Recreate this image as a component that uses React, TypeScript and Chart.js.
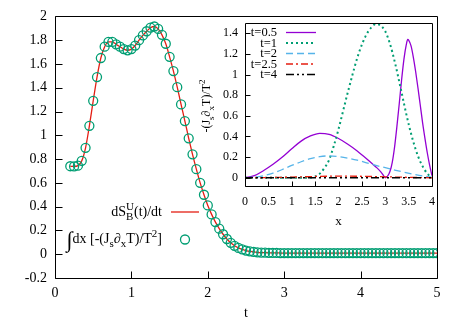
import React, { useEffect, useRef } from 'react';
import { Chart, registerables } from 'chart.js';

Chart.register(...registerables);

// ---------- main plot data ----------
const tValues = [
  0.2, 0.25, 0.3, 0.35, 0.4, 0.45, 0.5, 0.55, 0.6, 0.65,
  0.7, 0.75, 0.8, 0.85, 0.9, 0.95, 1.0, 1.05, 1.1, 1.15,
  1.2, 1.25, 1.3, 1.35, 1.4, 1.45, 1.5, 1.55, 1.6, 1.65,
  1.7, 1.75, 1.8, 1.85, 1.9, 1.95, 2.0, 2.05, 2.1, 2.15,
  2.2, 2.25, 2.3, 2.35, 2.4, 2.45, 2.5, 2.55, 2.6, 2.65,
  2.7, 2.75, 2.8, 2.85, 2.9, 2.95, 3.0, 3.05, 3.1, 3.15,
  3.2, 3.25, 3.3, 3.35, 3.4, 3.45, 3.5, 3.55, 3.6, 3.65,
  3.7, 3.75, 3.8, 3.85, 3.9, 3.95, 4.0, 4.05, 4.1, 4.15,
  4.2, 4.25, 4.3, 4.35, 4.4, 4.45, 4.5, 4.55, 4.6, 4.65,
  4.7, 4.75, 4.8, 4.85, 4.9, 4.95, 5.0,
];
const dSdtValues = [
  0.74, 0.738, 0.745, 0.785, 0.895, 1.08, 1.29, 1.49, 1.65, 1.745,
  1.785, 1.785, 1.765, 1.745, 1.725, 1.715, 1.725, 1.755, 1.8, 1.84,
  1.875, 1.905, 1.915, 1.895, 1.845, 1.77, 1.66, 1.54, 1.405, 1.26,
  1.12, 0.975, 0.84, 0.715, 0.6, 0.5, 0.41, 0.335, 0.27, 0.215,
  0.168, 0.128, 0.096, 0.071, 0.053, 0.04, 0.031, 0.024, 0.019, 0.016,
  0.014, 0.013, 0.012, 0.011, 0.011, 0.01, 0.01, 0.01, 0.01, 0.01,
  0.01, 0.01, 0.01, 0.01, 0.01, 0.01, 0.01, 0.01, 0.01, 0.01,
  0.01, 0.01, 0.01, 0.01, 0.01, 0.01, 0.01, 0.01, 0.01, 0.01,
  0.01, 0.01, 0.01, 0.01, 0.01, 0.01, 0.01, 0.01, 0.01, 0.01,
  0.01, 0.01, 0.01, 0.01, 0.01, 0.01, 0.01,
];
const integralValues = [
  0.74, 0.738, 0.745, 0.785, 0.895, 1.08, 1.29, 1.49, 1.65, 1.745,
  1.785, 1.785, 1.765, 1.745, 1.725, 1.715, 1.725, 1.755, 1.8, 1.84,
  1.875, 1.905, 1.915, 1.895, 1.845, 1.77, 1.66, 1.54, 1.405, 1.26,
  1.12, 0.975, 0.84, 0.715, 0.6, 0.5, 0.41, 0.335, 0.27, 0.215,
  0.168, 0.128, 0.096, 0.071, 0.053, 0.04, 0.031, 0.024, 0.019, 0.016,
  0.014, 0.013, 0.012, 0.011, 0.011, 0.01, 0.01, 0.01, 0.01, 0.01,
  0.01, 0.01, 0.01, 0.01, 0.01, 0.01, 0.01, 0.01, 0.01, 0.01,
  0.01, 0.01, 0.01, 0.01, 0.01, 0.01, 0.01, 0.01, 0.01, 0.01,
  0.01, 0.01, 0.01, 0.01, 0.01, 0.01, 0.01, 0.01, 0.01, 0.01,
  0.01, 0.01, 0.01, 0.01, 0.01, 0.01, 0.01,
];
const mainXTicks = [0, 1, 2, 3, 4, 5];
const mainYTicks = [-0.2, 0, 0.2, 0.4, 0.6, 0.8, 1.0, 1.2, 1.4, 1.6, 1.8, 2.0];
const mainXTitle = 't';

// ---------- inset data ----------
const purpleX = [0, 0.2, 0.4, 0.6, 0.8, 1.0, 1.2, 1.4, 1.6, 1.8, 2.0, 2.2, 2.4, 2.6, 2.8, 2.9, 2.95, 3.0, 3.05, 3.1, 3.15, 3.2, 3.25, 3.3, 3.35, 3.4, 3.45, 3.48, 3.5, 3.55, 3.6, 3.65, 3.7, 3.75, 3.8, 3.85, 3.9, 3.95, 4.0];
const purpleY = [0, 0.02, 0.07, 0.13, 0.2, 0.28, 0.355, 0.405, 0.43, 0.42, 0.38, 0.325, 0.26, 0.185, 0.105, 0.06, 0.03, 0.0, 0.015, 0.06, 0.15, 0.3, 0.5, 0.72, 0.95, 1.15, 1.29, 1.34, 1.335, 1.28, 1.17, 1.03, 0.87, 0.7, 0.53, 0.38, 0.24, 0.12, 0.02];
const greenX = [0, 0.5, 1.0, 1.4, 1.5, 1.6, 1.7, 1.8, 1.9, 2.0, 2.1, 2.2, 2.3, 2.4, 2.5, 2.6, 2.7, 2.8, 2.9, 3.0, 3.1, 3.2, 3.3, 3.4, 3.5, 3.6, 3.7, 3.8, 3.9, 4.0];
const greenY = [0, 0, 0, 0.002, 0.012, 0.04, 0.095, 0.175, 0.31, 0.47, 0.65, 0.83, 1.0, 1.16, 1.29, 1.39, 1.455, 1.49, 1.475, 1.42, 1.3, 1.13, 0.93, 0.72, 0.52, 0.35, 0.21, 0.11, 0.04, 0.0];
const blueX = [0, 0.2, 0.4, 0.6, 0.8, 1.0, 1.2, 1.4, 1.6, 1.8, 2.0, 2.2, 2.4, 2.6, 2.8, 3.0, 3.2, 3.4, 3.6, 3.8, 4.0];
const blueY = [0, 0.005, 0.02, 0.045, 0.08, 0.12, 0.155, 0.185, 0.205, 0.212, 0.205, 0.19, 0.17, 0.145, 0.12, 0.097, 0.075, 0.054, 0.035, 0.018, 0.005];
const redX = [0, 0.5, 1.0, 1.5, 2.0, 2.5, 3.0, 3.5, 4.0];
const redY = [0, 0.002, 0.006, 0.012, 0.016, 0.014, 0.009, 0.004, 0.0];
const blackX = [0, 1, 2, 3, 4];
const blackY = [0, 0, 0, 0, 0];
const insetLabels = ['t=0.5', 't=1', 't=2', 't=2.5', 't=4'];
const insetXTicks = [0, 0.5, 1, 1.5, 2, 2.5, 3, 3.5, 4];
const insetYTicks = [0, 0.2, 0.4, 0.6, 0.8, 1.0, 1.2, 1.4];
const insetXTitle = 'x';

const FAMILY = '"Liberation Serif", "DejaVu Serif", serif';
const W = 463;
const H = 324;

type Seg = { s: string; k?: 'sub' | 'sup'; stay?: boolean; big?: boolean };

const legendLine: Seg[] = [
  { s: 'dS' }, { s: 'B', k: 'sub', stay: true }, { s: 'U', k: 'sup' }, { s: '(t)/dt' },
];
const legendCircles: Seg[] = [
  { s: '\u222B', big: true }, { s: 'dx [-(J' }, { s: 's', k: 'sub' }, { s: '\u2202' },
  { s: 'x', k: 'sub' }, { s: 'T)/T' }, { s: '2', k: 'sup' }, { s: ']' },
];
const insetYTitle: Seg[] = [
  { s: '-(J' }, { s: 's', k: 'sub' }, { s: '\u2202' }, { s: 'x', k: 'sub' },
  { s: 'T)/T' }, { s: '2', k: 'sup' },
];

function drawRich(ctx: CanvasRenderingContext2D, segs: Seg[], x: number, y: number, size: number, align: 'left' | 'right' | 'center') {
  const fontOf = (g: Seg) =>
    g.big ? `${Math.round(size * 1.6)}px ${FAMILY}` : g.k ? `${Math.round(size * 0.75)}px ${FAMILY}` : `${size}px ${FAMILY}`;
  let w = 0;
  for (const g of segs) {
    ctx.font = fontOf(g);
    if (!g.stay) w += ctx.measureText(g.s).width;
  }
  let cx = align === 'right' ? x - w : align === 'center' ? x - w / 2 : x;
  ctx.textAlign = 'left';
  ctx.textBaseline = 'alphabetic';
  for (const g of segs) {
    ctx.font = fontOf(g);
    const dy = g.k === 'sub' ? size * 0.3 : g.k === 'sup' ? -size * 0.45 : g.big ? size * 0.28 : 0;
    ctx.fillText(g.s, cx, y + dy);
    if (!g.stay) cx += ctx.measureText(g.s).width;
  }
}

function framePlugin(id: string, tickLen: number) {
  return {
    id,
    afterDatasetsDraw(chart: any) {
      const { ctx, chartArea: a, scales } = chart;
      ctx.save();
      ctx.strokeStyle = '#000';
      ctx.lineWidth = 1;
      ctx.beginPath();
      const l = Math.round(a.left) + 0.5;
      const r = Math.round(a.right) + 0.5;
      const t = Math.round(a.top) + 0.5;
      const b = Math.round(a.bottom) + 0.5;
      ctx.rect(l, t, r - l, b - t);
      for (const tk of scales.x.ticks) {
        const px = Math.round(scales.x.getPixelForValue(tk.value)) + 0.5;
        ctx.moveTo(px, b);
        ctx.lineTo(px, b - tickLen);
      }
      for (const tk of scales.y.ticks) {
        const py = Math.round(scales.y.getPixelForValue(tk.value)) + 0.5;
        ctx.moveTo(l, py);
        ctx.lineTo(l + tickLen, py);
      }
      ctx.stroke();
      ctx.restore();
    },
  };
}

const fmt = (v: any) => String(Math.round(Number(v) * 100) / 100);

function axis(ticksArr: number[], min: number, max: number, size: number, pad: number, fitKey: 'width' | 'height', fitVal: number, title?: { text: string; size: number; pb: number }) {
  return {
    type: 'linear' as const,
    min,
    max,
    afterBuildTicks: (s: any) => {
      s.ticks = ticksArr.map((v) => ({ value: v }));
    },
    afterFit: (s: any) => {
      s[fitKey] = fitVal;
    },
    grid: { display: false, drawTicks: false },
    border: { display: false },
    ticks: { padding: pad, color: '#000', autoSkip: false, maxRotation: 0, font: { family: FAMILY, size }, callback: fmt },
    title: title
      ? { display: true, text: title.text, color: '#000', font: { family: FAMILY, size: title.size }, padding: { top: 0, bottom: title.pb } }
      : { display: false },
  };
}

export default function App() {
  const mainRef = useRef<HTMLCanvasElement>(null);
  const insetRef = useRef<HTMLCanvasElement>(null);

  useEffect(() => {
    document.body.style.margin = '0';
    const mainLegend = {
      id: 'mainLegend',
      afterDraw(chart: any) {
        const ctx = chart.ctx;
        ctx.save();
        ctx.fillStyle = '#000';
        drawRich(ctx, legendLine, 162, 216, 14, 'right');
        drawRich(ctx, legendCircles, 162, 243, 14, 'right');
        ctx.strokeStyle = '#e41e14';
        ctx.lineWidth = 1.3;
        ctx.beginPath();
        ctx.moveTo(171, 212);
        ctx.lineTo(199, 212);
        ctx.stroke();
        ctx.strokeStyle = '#009e73';
        ctx.beginPath();
        ctx.arc(185, 239.5, 4.5, 0, Math.PI * 2);
        ctx.stroke();
        ctx.restore();
      },
    };

    const main = new Chart(mainRef.current!, {
      type: 'line',
      data: {
        datasets: [
          {
            label: 'integral',
            data: tValues.map((t, i) => ({ x: t, y: integralValues[i] })),
            showLine: false,
            pointRadius: 4.5,
            pointBorderColor: '#009e73',
            pointBackgroundColor: 'rgba(0,0,0,0)',
            pointBorderWidth: 1.3,
            borderColor: '#009e73',
          },
          {
            label: 'dS/dt',
            data: tValues.map((t, i) => ({ x: t, y: dSdtValues[i] })),
            borderColor: '#e41e14',
            borderWidth: 1.3,
            pointRadius: 0,
            cubicInterpolationMode: 'monotone',
          },
        ],
      },
      options: {
        responsive: false,
        animation: false,
        events: [],
        layout: { padding: { left: 0, top: 16, right: 26, bottom: 0 } },
        plugins: { legend: { display: false }, tooltip: { enabled: false } },
        scales: {
          x: axis(mainXTicks, 0, 5, 14, 7, 'height', 46, { text: mainXTitle, size: 14, pb: 2 }),
          y: axis(mainYTicks, -0.2, 2, 14, 8, 'width', 55),
        },
      } as any,
      plugins: [framePlugin('mainFrame', 7), mainLegend],
    });

    const styles = [
      { color: '#9400d3', dash: [] as number[], width: 1.3 },
      { color: '#009e73', dash: [2, 3], width: 2 },
      { color: '#56b4e9', dash: [7, 4], width: 1.3 },
      { color: '#e51e10', dash: [7, 3, 2, 3], width: 1.3 },
      { color: '#000000', dash: [8, 3, 2, 3, 2, 3], width: 1.3 },
    ];
    const series = [
      [purpleX, purpleY],
      [greenX, greenY],
      [blueX, blueY],
      [redX, redY],
      [blackX, blackY],
    ];

    const insetLegend = {
      id: 'insetLegend',
      afterDraw(chart: any) {
        const ctx = chart.ctx;
        ctx.save();
        const rows = [32.5, 43, 53.5, 64, 74.5];
        insetLabels.forEach((lab, i) => {
          ctx.fillStyle = '#000';
          ctx.font = `12.5px ${FAMILY}`;
          ctx.textAlign = 'right';
          ctx.textBaseline = 'middle';
          ctx.fillText(lab, 277, rows[i] + 0.5);
          ctx.strokeStyle = styles[i].color;
          ctx.lineWidth = styles[i].width;
          ctx.setLineDash(styles[i].dash);
          ctx.beginPath();
          ctx.moveTo(286, rows[i]);
          ctx.lineTo(316, rows[i]);
          ctx.stroke();
        });
        ctx.setLineDash([]);
        ctx.fillStyle = '#000';
        ctx.translate(210, 106);
        ctx.rotate(-Math.PI / 2);
        drawRich(ctx, insetYTitle, 0, 0, 12, 'center');
        ctx.restore();
      },
    };

    const inset = new Chart(insetRef.current!, {
      type: 'line',
      data: {
        datasets: series.map((s, i) => ({
          label: insetLabels[i],
          data: s[0].map((x, j) => ({ x, y: s[1][j] })),
          borderColor: styles[i].color,
          borderWidth: styles[i].width,
          borderDash: styles[i].dash,
          pointRadius: 0,
          cubicInterpolationMode: 'monotone',
          order: 5 - i,
        })),
      },
      options: {
        responsive: false,
        animation: false,
        events: [],
        layout: { padding: { left: 0, top: 23, right: 31, bottom: 95 } },
        plugins: { legend: { display: false }, tooltip: { enabled: false } },
        scales: {
          x: axis(insetXTicks, 0, 4, 12, 9, 'height', 43, { text: insetXTitle, size: 13, pb: 0 }),
          y: axis(insetYTicks, -0.08, 1.5, 12, 7, 'width', 245),
        },
      } as any,
      plugins: [framePlugin('insetFrame', 5), insetLegend],
    });

    return () => {
      main.destroy();
      inset.destroy();
    };
  }, []);

  return (
    <div style={{ position: 'fixed', left: 0, top: 0, width: W, height: H, background: '#fff' }}>
      <canvas ref={mainRef} width={W} height={H} style={{ position: 'absolute', left: 0, top: 0, width: W, height: H }} />
      <canvas ref={insetRef} width={W} height={H} style={{ position: 'absolute', left: 0, top: 0, width: W, height: H, pointerEvents: 'none' }} />
    </div>
  );
}
